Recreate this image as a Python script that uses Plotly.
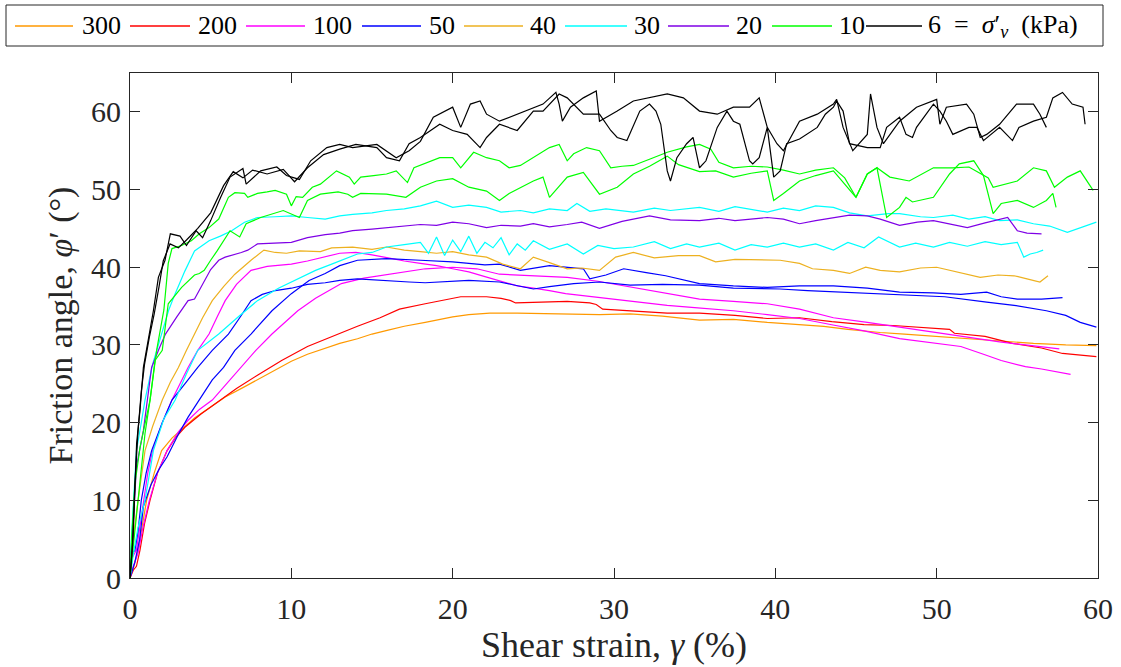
import plotly.graph_objects as go

# ---------------- data ----------------
pressures = ["300", "200", "100", "50", "40", "30", "20", "10", "6"]
colors = ["#FF9900", "#FF0000", "#FF00FF", "#0000FF", "#EDB120",
          "#00FFFF", "#7F00E6", "#00FF00", "#000000"]
legend_labels = ["300", "200", "100", "50", "40", "30", "20", "10",
                 "6 &nbsp;= &nbsp;<i>σ</i>′<sub><i>v</i></sub> &nbsp;(kPa)"]

x_300 = [0, 0.2, 0.5, 0.8, 1.03, 1.5, 1.96, 2.6, 3.3, 4, 5, 5.9, 7, 8, 9, 10, 11, 12, 13, 14.1,
         15, 16, 17, 18.3, 19, 20, 21, 22.3, 24, 26, 28, 29.1, 31, 33, 35.3, 37.4, 39.5, 41.5, 43, 44.5,
         46.5, 48, 50, 52.7, 54, 56, 58, 59.9]
phi_300 = [0, 1.2, 3.6, 7, 10, 13.5, 16.4, 18, 19.3, 20.6, 22, 23.3, 24.5, 25.6, 26.8, 27.9, 28.8, 29.5, 30.2, 30.8,
           31.4, 31.9, 32.4, 32.9, 33.2, 33.6, 33.9, 34.1, 34.1, 34.0, 33.9, 33.9, 34.0, 33.7, 33.2, 33.3, 32.9, 32.6, 32.4, 32.0,
           31.6, 31.4, 31.1, 30.7, 30.5, 30.2, 30.0, 29.9]

x_200 = [0, 0.2, 0.4, 0.62, 0.9, 1.24, 1.7, 2.3, 2.8, 3.4, 4.4, 5.5, 6.6, 7.9, 9.4, 11.0, 12.5, 14.1, 15.5, 16.7,
         18.3, 19.5, 20.5, 22.1, 23.0, 23.6, 23.9, 25.5, 27.1, 28.5, 28.9, 29.3, 31, 33.3, 35.3, 37.5, 39.5, 41.5, 43.5, 45.5,
         47.3, 49, 50.8, 51.1, 53, 54.7, 56.5, 57.8, 59.9]
phi_200 = [0, 1.0, 1.5, 3.6, 7, 10, 13.5, 16.4, 18.0, 19.4, 21.1, 22.7, 24.4, 26.1, 28.0, 29.8, 31.1, 32.4, 33.5, 34.6,
           35.3, 35.8, 36.2, 36.2, 36.0, 35.7, 35.4, 35.5, 35.6, 35.4, 35.2, 34.6, 34.4, 34.1, 34.1, 33.8, 33.4, 33.5, 33.0, 32.6,
           32.5, 32.3, 32.0, 31.5, 31.1, 30.2, 29.6, 28.9, 28.5]

x_100a = [0, 0.1, 0.4, 0.6, 0.83, 1.1, 1.4, 2.0, 2.6, 3.1, 3.6, 4.2, 4.9, 5.4, 5.9, 6.6, 7.5, 8.5, 10, 11,
          12.1, 13, 14, 15, 16, 17, 18, 19, 20, 21, 22, 23, 24, 25, 26, 27, 29.1, 31, 33.3, 35,
          37.4, 39.5, 41.5, 43.5, 45.5, 47.7, 49.8, 51.5, 52.9, 54, 55.5, 56.5, 58.3]
phi_100a = [0, 2.5, 3.6, 6.5, 10, 13.5, 16.4, 20, 22.9, 25, 27.1, 29.3, 31.4, 33.6, 35.7, 37.8, 39.6, 40.1, 40.4, 40.8,
            41.3, 41.8, 41.9, 41.6, 41.2, 40.8, 40.5, 40.2, 39.8, 39.4, 38.8, 38.2, 37.6, 37.3, 37.0, 36.6, 36.1, 35.7, 35.1, 34.8,
            34.4, 33.9, 33.4, 32.6, 31.8, 30.8, 30.2, 29.8, 28.8, 28.0, 27.2, 26.9, 26.2]

x_100b = [0, 0.2, 0.5, 0.8, 1.2, 1.7, 2.3, 3.0, 3.6, 4.3, 5.1, 6.0, 6.9, 7.8, 8.8, 9.6, 10.4, 11.5, 13.1, 14.5,
          16.2, 18.3, 20, 21.5, 22.9, 25, 27.1, 29, 31.2, 33.3, 35.3, 37.4, 39.5, 41.5, 43.6, 45.7, 47.7, 49.8, 51.9, 53.9,
          55.5, 56.5, 57.6]
phi_100b = [0, 1.5, 3.2, 6.5, 10, 13.5, 16.4, 18.8, 20.3, 21.7, 22.9, 25, 27.1, 29.3, 31.4, 32.9, 34.4, 36, 37.9, 38.6,
            39.1, 39.8, 40.0, 39.8, 39.1, 38.9, 38.7, 38.2, 37.4, 36.7, 35.9, 35.6, 35.3, 34.6, 33.5, 32.9, 32.3, 31.6, 31.0, 30.4,
            30.0, 29.8, 29.5]

x_50a = [0, 0.1, 0.3, 0.5, 0.7, 1.0, 1.34, 2.0, 2.6, 3.4, 4.2, 5.1, 6.1, 6.8, 7.5, 8.2, 9, 10, 11, 12.1,
         13, 14.1, 15.5, 17.3, 18.3, 20, 21, 22.9, 24, 25, 26, 27.5, 29.1, 31, 33, 35.3, 37.4, 39.5, 40.3, 42,
         44.4, 46.5, 48.5, 50.5, 53.1, 54.8, 56.8, 58, 58.9, 59.9]
phi_50a = [3.2, 3.3, 3.5, 6, 10, 13.5, 16.4, 20, 22.9, 25, 27.1, 29.3, 31.4, 33.5, 35.7, 36.5, 37.0, 37.3, 37.8, 38.0,
           38.3, 38.5, 38.3, 38.1, 38.0, 38.2, 38.3, 38.1, 37.6, 37.2, 37.5, 37.9, 38.1, 37.7, 37.8, 37.7, 37.3, 37.2, 37.2, 37.0,
           36.8, 36.6, 36.4, 36.2, 35.5, 35.1, 34.4, 33.8, 32.9, 32.3]

x_50b = [0, 0.3, 0.6, 0.83, 1.3, 1.8, 2.3, 3.0, 3.6, 4.3, 5.1, 5.8, 6.5, 7.5, 8.8, 10, 11.1, 12.1, 13, 14.1,
         15.9, 18, 20, 22, 22.9, 24.2, 26, 28.1, 28.5, 29.5, 30.6, 32, 33.2, 35.3, 37.4, 39.5, 41.5, 43.6, 45.7, 47.7,
         49.8, 51.5, 53.1, 54, 55, 56.5, 57.8]
phi_50b = [0, 2, 5, 9.2, 12, 14, 15.6, 18.5, 20.7, 22.9, 25.5, 27.1, 29.3, 31.4, 34.4, 36.6, 38.3, 39.2, 40.2, 40.9,
           41.1, 40.9, 40.7, 40.3, 40.4, 39.6, 40.2, 39.8, 38.5, 39.0, 39.8, 39.3, 38.9, 37.9, 37.6, 37.4, 37.6, 37.6, 37.3, 36.8,
           36.7, 36.5, 36.8, 36.2, 35.9, 35.9, 36.1]

x_40 = [0, 0.2, 0.5, 0.7, 0.93, 1.4, 2.0, 2.5, 3.0, 3.5, 4.0, 4.5, 5.1, 5.8, 6.5, 7.0, 7.5, 8.3, 9.0, 9.7,
        10.5, 11.8, 12.5, 13.8, 15, 15.9, 17, 18, 19, 20, 21, 22.1, 23.1, 24.2, 25, 26, 27.1, 28, 29.1, 30.1,
        31.2, 32.5, 34, 35.3, 36.3, 37.5, 39.5, 40.3, 41.5, 42.3, 43.6, 44.6, 45.6, 46.5, 47.7, 49, 50, 51.5, 52.7, 53.8,
        54.8, 55.6, 56.4, 56.9]
phi_40 = [0, 5, 10, 13, 16.4, 19.5, 22.9, 25.2, 27.1, 29.3, 31.4, 33.5, 35.7, 37.5, 39.1, 40.0, 40.9, 42.2, 41.9, 41.8,
          42.1, 42.0, 42.5, 42.6, 42.3, 42.6, 42.2, 42.0, 41.8, 42.0, 41.6, 41.3, 40.4, 39.8, 41.3, 40.6, 39.8, 39.9, 39.6, 41.3,
          41.9, 41.2, 41.5, 41.5, 40.7, 41.0, 40.9, 40.9, 40.5, 39.8, 39.6, 39.2, 40.0, 39.6, 39.4, 39.9, 40.0, 39.3, 38.7, 39.0,
          38.9, 38.5, 38.1, 38.9]

x_30a = [0, 0.1, 0.4, 0.7, 0.93, 1.4, 1.96, 2.4, 2.8, 3.4, 4.0, 4.9, 5.6, 6.3, 7.1, 7.9, 9, 10, 11, 12.1,
         13, 13.8, 15, 15.9, 17, 18, 19, 20, 21, 22.1, 23, 24.2, 25, 26, 27.1, 27.7, 28.5, 29.5, 31.2, 32.5,
         33.5, 35.3, 36.5, 37.5, 39.5, 40.5, 41.5, 42.5, 43.6, 44.6, 45.7, 47, 47.7, 49, 49.8, 51, 52, 53, 53.9, 55,
         56, 57, 58.1, 59, 59.9]
phi_30a = [2, 6, 16.4, 20, 22.9, 27.5, 31.4, 34.5, 36.6, 39.5, 42.1, 43.4, 44.0, 44.7, 45.8, 46.4, 46.5, 46.6, 46.4, 46.2,
           46.6, 46.8, 47.0, 47.3, 47.5, 47.9, 48.5, 47.7, 48.0, 47.7, 47.1, 47.3, 47.0, 47.5, 47.3, 48.2, 47.2, 47.5, 47.1, 47.6,
           47.3, 47.7, 47.2, 47.8, 47.1, 47.6, 47.3, 47.9, 47.7, 47.0, 46.6, 46.9, 46.9, 46.5, 46.4, 46.7, 46.2, 46.5, 46.0, 46.1,
           45.6, 45.3, 44.5, 45.2, 45.8]

x_30b = [0, 0.2, 0.5, 0.93, 1.45, 2.1, 2.8, 3.5, 4.2, 5.5, 6.7, 7.9, 9.2, 10.6, 11.5, 12.5, 13.3, 14.1, 15, 15.9,
         17, 18, 18.5, 19, 19.5, 20, 20.5, 21, 21.5, 22, 22.5, 23, 23.5, 24, 24.5, 25, 26, 27.1, 28.1, 29,
         30, 31.2, 32.5, 33.5, 34.5, 35.3, 36.5, 37.5, 38.5, 39.5, 40.5, 41.5, 42.5, 43.6, 44.5, 45.5, 46.4, 47.7, 48.7, 49.8,
         50.8, 51.9, 53, 54, 55, 55.4, 55.8, 56.2, 56.6]
phi_30b = [0, 3, 6.5, 10, 16.4, 20.5, 22.9, 26.3, 29.3, 31.4, 33.6, 35.7, 37.3, 38.7, 39.6, 40.4, 41.1, 41.7, 41.9, 42.6,
           42.9, 43.2, 41.8, 43.9, 41.5, 43.5, 42.0, 44.0, 41.8, 43.2, 42.5, 43.8, 41.6, 43.0, 42.2, 43.4, 42.3, 43.0, 41.7, 42.8,
           42.4, 42.6, 43.3, 42.4, 43.0, 42.6, 43.1, 42.2, 42.9, 42.6, 43.1, 42.6, 43.0, 42.2, 43.2, 42.5, 43.9, 42.6, 43.1, 42.6,
           43.2, 42.7, 43.3, 42.9, 43.2, 41.3, 41.7, 41.9, 42.2]

x_20 = [0, 0.1, 0.4, 0.83, 1.34, 1.8, 2.2, 2.9, 3.6, 4.0, 4.6, 5.0, 5.5, 5.9, 6.9, 7.3, 7.9, 9, 10, 11,
        12.1, 13, 13.8, 15, 15.9, 17, 18, 19, 20, 21, 22.1, 23, 24.2, 25, 26, 27.1, 28, 29.1, 30.5, 32.2,
        33.5, 35.3, 36.5, 37.5, 39.5, 40.5, 41.5, 42.5, 43.6, 44.6, 45.7, 46.5, 47.7, 48.8, 49.8, 50.8, 51.9, 53, 54.4, 55,
        55.6, 56.5]
phi_20 = [0, 4, 14.3, 19, 27.1, 29.5, 31.4, 33.6, 35.7, 35.9, 38.3, 39.7, 40.9, 41.3, 41.9, 42.2, 43.0, 43.1, 43.2, 43.8,
          44.2, 44.4, 44.7, 44.9, 45.1, 45.3, 45.5, 45.4, 45.8, 45.6, 45.1, 45.4, 45.3, 45.6, 45.2, 45.5, 45.8, 45.0, 45.9, 46.6,
          46.1, 46.0, 46.3, 46.0, 46.4, 46.2, 45.6, 46.0, 46.4, 46.7, 46.6, 46.2, 45.4, 45.8, 46.0, 45.6, 45.1, 45.7, 46.4, 44.7,
          44.4, 44.3]

x_10a = [0, 0.1, 0.3, 0.62, 1.0, 1.24, 1.65, 1.76, 2.1, 2.37, 2.6, 3.2, 3.8, 4.3, 4.9, 5.5, 6.1, 6.5, 7.1, 7.3,
         7.9, 8.5, 9.0, 9.7, 10.0, 10.3, 10.7, 11.3, 11.8, 12.8, 13.6, 13.9, 14.3, 15.1, 15.9, 16.5, 17.2, 17.6, 18.4, 19.2,
         20.0, 20.5, 21.3, 22.1, 22.9, 23.5, 24.2, 25, 26, 26.6, 27.1, 27.5, 28.3, 29.1, 29.8, 30.5, 31.2, 32.2, 33.3, 34.5,
         35.3, 36, 36.5, 37.4, 38.5, 39.5, 40.5, 41.5, 42.5, 43.6, 44.3, 45, 45.7, 46.3, 47.1, 48.3, 49.8, 51, 52.0, 53.2,
         53.5, 55, 56, 56.8, 57.3, 58.1, 58.9, 59.7]
phi_10a = [0, 5, 12, 16.8, 20.5, 22.9, 29.3, 30.6, 34.5, 40.5, 42.4, 42.8, 43.4, 44.3, 45.1, 46.2, 49.0, 49.6, 49.5, 49.0,
           49.5, 49.7, 49.9, 49.4, 47.9, 49.1, 49.0, 50.3, 50.7, 52.4, 51.6, 50.7, 51.6, 51.8, 52.0, 52.4, 50.9, 52.8, 53.5, 54.1,
           54.1, 52.8, 54.8, 54.1, 53.7, 52.8, 53.1, 54.1, 55.4, 55.8, 53.7, 54.6, 55.4, 55.0, 52.8, 53.0, 53.1, 53.9, 54.8, 55.5,
           55.8, 55.2, 53.5, 52.8, 53.0, 52.9, 52.5, 52.0, 52.5, 52.8, 51.5, 49.0, 52.0, 52.8, 51.6, 51.1, 52.8, 52.8, 52.9, 51.5,
           50.3, 51.1, 52.8, 52.4, 50.3, 51.6, 52.4, 49.9]

x_10b = [0, 0.2, 0.5, 0.93, 1.25, 1.55, 2.0, 2.37, 3.2, 4.0, 4.3, 4.6, 5.0, 5.4, 6.2, 6.8, 7.2, 8.1, 9.5, 10.0,
         10.5, 11.0, 11.8, 12.9, 13.5, 13.8, 14.3, 15.9, 17.1, 18, 19, 20, 21, 22.1, 22.9, 23.5, 25, 25.6, 26.0, 27.1,
         28.1, 29.1, 30.2, 31.2, 32.2, 33.3, 34, 35.3, 36.3, 37.4, 38.5, 39.5, 39.9, 40.5, 41.5, 42.5, 43.6, 45.0, 45.7, 46.3,
         46.9, 47.7, 48.1, 48.5, 49.8, 50.8, 51.4, 52.3, 52.9, 53.5, 54.0, 55.0, 56.0, 56.8, 57.2, 57.4]
phi_10b = [0, 4, 10, 18.6, 23, 28, 29.3, 35.3, 37.4, 39.0, 39.2, 39.6, 40.9, 42.1, 44.7, 43.9, 45.6, 46.4, 47.3, 46.8,
           46.4, 48.6, 49.4, 49.7, 49.4, 49.0, 49.5, 49.4, 49.0, 50.3, 51.1, 51.4, 50.3, 49.8, 48.6, 49.5, 51.1, 51.6, 49.0, 51.6,
           52.2, 49.4, 50.3, 52.0, 53.0, 54.3, 53.2, 52.3, 52.4, 51.6, 52.1, 52.4, 48.6, 49.5, 51.1, 51.8, 52.4, 49.0, 52.0, 52.8,
           46.4, 47.7, 49.0, 48.4, 49.0, 52.0, 53.3, 53.7, 51.8, 46.9, 48.2, 48.6, 47.7, 48.6, 49.5, 47.7]

x_6a = [0, 0.1, 0.2, 0.41, 0.62, 0.83, 1.03, 1.45, 1.76, 2.17, 2.5, 3.1, 3.5, 4.1, 4.5, 5.0, 5.6, 6.2, 7.0, 7.2,
        8.1, 9.1, 9.7, 10.5, 11.2, 12.2, 13.0, 13.8, 15.3, 15.9, 16.5, 17.3, 18.0, 18.8, 20.0, 20.5, 21.1, 21.7, 22.1, 22.9,
        24.0, 25.0, 25.6, 26.4, 26.6, 26.8, 27.3, 28.1, 28.5, 28.9, 29.1, 30.2, 31.2, 32.2, 33.3, 34.3, 35.3, 36.4, 37.4, 38.4,
        39.0, 39.5, 40.1, 40.5, 41.5, 42.6, 43.6, 43.8, 44.2, 44.8, 45.7, 45.9, 46.3, 46.7, 47.7, 48.75, 49.8, 50.0, 50.2, 50.6,
        51.85, 52.3, 52.7, 53.1, 53.9, 54.95, 56.0, 56.4, 56.8]
phi_6a = [0, 3, 5.7, 17.3, 21.6, 27.1, 29.3, 34.4, 38.7, 40.9, 44.3, 44.0, 42.8, 44.7, 43.8, 46.0, 48.9, 51.6, 52.7, 50.7,
          52.4, 52.9, 51.8, 51.3, 53.7, 55.4, 55.8, 55.4, 55.8, 55.0, 54.1, 55.0, 56.2, 59.3, 60.6, 58.0, 61.0, 61.4, 59.7, 58.8,
          59.7, 60.6, 61.0, 62.5, 61.0, 58.8, 60.6, 61.8, 62.3, 62.7, 58.8, 60.1, 61.4, 61.8, 62.3, 61.8, 60.1, 59.7, 60.6, 60.6,
          61.8, 58.0, 55.9, 55.0, 58.8, 59.7, 61.0, 61.6, 58.0, 55.0, 57.1, 62.3, 58.0, 55.9, 58.8, 60.6, 61.4, 61.6, 58.4, 60.6,
          61.0, 59.7, 56.7, 57.1, 58.4, 61.0, 61.0, 59.7, 58.0]

x_6b = [0, 0.15, 0.3, 0.5, 0.7, 0.9, 1.2, 1.5, 1.8, 2.06, 2.48, 3.0, 3.5, 4.2, 5.0, 5.8, 6.4, 7.0, 7.6, 8.5,
        9.5, 10.2, 11.0, 12.0, 13.0, 14.0, 15.3, 15.9, 16.7, 17.3, 18.0, 19.2, 20.0, 20.9, 21.7, 22.1, 22.9, 24.0, 25.0, 25.6,
        26.6, 27.1, 28.1, 29.1, 29.8, 30.2, 30.8, 31.6, 32.2, 32.6, 32.9, 33.3, 33.5, 33.9, 34.5, 34.9, 35.3, 35.7, 36.4, 37.0,
        37.4, 37.8, 38.4, 38.6, 39.0, 39.5, 39.9, 40.3, 40.7, 41.5, 42.6, 43.1, 43.6, 43.8, 44.2, 44.6, 45.7, 46.5, 46.9, 47.7,
        48.1, 48.5, 48.75, 49.8, 50.2, 50.6, 51.0, 52.0, 52.5, 52.9, 53.9, 54.7, 55.1, 56.0, 56.8, 57.2, 57.8, 58.4, 59.07, 59.2]
phi_6b = [0, 4, 12, 19, 24, 27.5, 31, 34, 37.5, 40.8, 43.0, 42.5, 43.5, 45, 47, 50.5, 52.3, 51.5, 52.5, 52.0,
          52.6, 51.0, 52.8, 54.5, 55.2, 55.8, 55.4, 54.1, 53.7, 55.9, 56.7, 58.4, 57.6, 57.1, 55.4, 56.7, 58.4, 57.6, 60.1, 60.1,
          62.3, 61.8, 59.7, 59.7, 57.6, 56.7, 56.3, 60.1, 61.0, 60.1, 58.4, 52.4, 51.1, 54.1, 55.9, 56.7, 52.8, 53.7, 58.0, 60.1,
          58.8, 58.4, 53.7, 53.3, 54.1, 58.0, 51.6, 52.4, 55.9, 56.5, 58.0, 59.7, 60.6, 61.4, 60.1, 55.9, 55.4, 55.4, 58.0, 59.3,
          57.1, 56.7, 58.0, 61.0, 60.1, 58.8, 57.1, 58.0, 58.0, 56.3, 58.0, 56.3, 58.0, 58.8, 59.3, 61.8, 62.5, 61.0, 60.6, 58.4]

# tests grouped by vertical stress (same order as the legend)
tests = [
    [(x_300, phi_300)],
    [(x_200, phi_200)],
    [(x_100a, phi_100a), (x_100b, phi_100b)],
    [(x_50a, phi_50a), (x_50b, phi_50b)],
    [(x_40, phi_40)],
    [(x_30a, phi_30a), (x_30b, phi_30b)],
    [(x_20, phi_20)],
    [(x_10a, phi_10a), (x_10b, phi_10b)],
    [(x_6a, phi_6a), (x_6b, phi_6b)],
]

x_ticks = [0, 10, 20, 30, 40, 50, 60]
y_ticks = [0, 10, 20, 30, 40, 50, 60]

# ---------------- figure ----------------
FONT = "Liberation Serif"
AXC = "#262626"
W, H = 1121, 667
ML, MR, MT, MB = 130, 23, 73, 89
PW, PH = W - ML - MR, H - MT - MB


def px_x(px):
    """pixel column -> paper x"""
    return (px - ML) / PW


def px_y(py):
    """pixel row -> paper y"""
    return (H - MB - py) / PH


fig = go.Figure()
for p, col, lab, group in zip(pressures, colors, legend_labels, tests):
    for k, (xs, ys) in enumerate(group):
        fig.add_trace(go.Scatter(
            x=xs, y=ys, mode="lines", name=p + " kPa", legendgroup=p,
            showlegend=False, line=dict(color=col, width=1.2),
        ))

# legend box drawn in MATLAB style (long line samples, single row)
legend_box = dict(x0=6, x1=1103, y0=5, y1=46)
legend_items = [  # (sample start px, sample end px, text start px)
    (15, 73, 80), (130, 190, 196), (246, 305, 311), (362, 421, 427), (464, 523, 528),
    (565, 627, 632), (668, 729, 734), (772, 832, 837), (866, 922, 926),
]
ly = 26
shapes = [dict(type="rect", xref="paper", yref="paper",
               x0=px_x(legend_box["x0"]), x1=px_x(legend_box["x1"]),
               y0=px_y(legend_box["y1"]), y1=px_y(legend_box["y0"]),
               line=dict(color=AXC, width=1), fillcolor="white", layer="below")]
annotations = []
for (s0, s1, t0), col, lab in zip(legend_items, colors, legend_labels):
    shapes.append(dict(type="line", xref="paper", yref="paper",
                       x0=px_x(s0), x1=px_x(s1), y0=px_y(ly), y1=px_y(ly),
                       line=dict(color=col, width=1.5), opacity=1, layer="above"))
    annotations.append(dict(xref="paper", yref="paper", x=px_x(t0), y=px_y(ly),
                            xanchor="left", yanchor="middle", showarrow=False,
                            text=lab, font=dict(family=FONT, size=26, color="black")))

axis_common = dict(
    showline=True, linecolor=AXC, linewidth=1, mirror="ticks",
    ticks="inside", ticklen=10, tickwidth=1, tickcolor=AXC,
    showgrid=False, zeroline=False,
    tickfont=dict(family=FONT, size=30, color=AXC),
)

fig.update_layout(
    width=W, height=H,
    margin=dict(l=ML, r=MR, t=MT, b=MB, autoexpand=False),
    paper_bgcolor="white", plot_bgcolor="white",
    font=dict(family=FONT, color=AXC),
    xaxis=dict(range=[0, 60], tickvals=x_ticks, ticklabelstandoff=4,
               title=dict(text="Shear strain, <i>γ</i> (%)", font=dict(family=FONT, size=36, color=AXC), standoff=2),
               **axis_common),
    yaxis=dict(range=[0, 65], tickvals=y_ticks, ticklabelstandoff=2,
               title=dict(text="Friction angle, <i>φ</i>′ (°)", font=dict(family=FONT, size=34, color=AXC), standoff=8),
               **axis_common),
    shapes=shapes,
    annotations=annotations,
    showlegend=False,
)

fig.write_html("out.html")
